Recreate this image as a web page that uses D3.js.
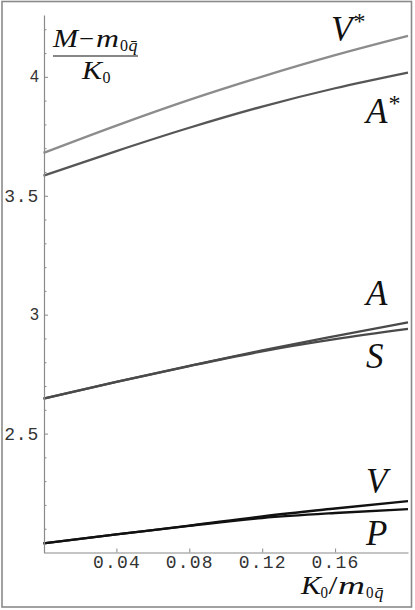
<!DOCTYPE html>
<html><head><meta charset="utf-8">
<script src="https://cdn.jsdelivr.net/npm/d3@7/dist/d3.min.js"></script>
<style>
html,body{margin:0;padding:0;background:#fff;}
svg{display:block;}
</style></head>
<body>
<svg id="chart" width="415" height="610"></svg>
<script>
// Data
const xValues = [0, 0.04, 0.08, 0.12, 0.16, 0.2];
const vStar = [3.680, 3.795, 3.903, 4.001, 4.091, 4.172];
const aStar = [3.584, 3.688, 3.786, 3.875, 3.952, 4.018];
const aVals = [2.647, 2.717, 2.785, 2.850, 2.910, 2.968];
const sVals = [2.647, 2.717, 2.784, 2.846, 2.897, 2.940];
const vVals = [2.038, 2.076, 2.113, 2.152, 2.185, 2.216];
const pVals = [2.038, 2.076, 2.112, 2.145, 2.166, 2.182];
const seriesNames = ["V*", "A*", "A", "S", "V", "P"];
const xTickValues = [0.04, 0.08, 0.12, 0.16];
const yTickValues = [2.5, 3, 3.5, 4];
const yMinorTicks = [2.1,2.2,2.3,2.4,2.6,2.7,2.8,2.9,3.1,3.2,3.3,3.4,3.6,3.7,3.8,3.9,4.1,4.2];

const svg = d3.select("#chart");
const x = d3.scaleLinear().domain([0, 0.2]).range([43.5, 408]);
const y = d3.scaleLinear().domain([2.0, 4.26]).range([552.5, 15]);

// outer frame
svg.append("rect").attr("x", 2).attr("y", 1.5).attr("width", 409.5).attr("height", 605.5)
  .attr("fill", "none").attr("stroke", "#8a8a8a").attr("stroke-width", 1.6);

const series = [
  {name: "V*", values: vStar, color: "#8c8c8c"},
  {name: "A*", values: aStar, color: "#565656"},
  {name: "A", values: aVals, color: "#4a4a4a"},
  {name: "S", values: sVals, color: "#4a4a4a"},
  {name: "V", values: vVals, color: "#111"},
  {name: "P", values: pVals, color: "#111"}
];

const line = d3.line().x(d => x(d[0])).y(d => y(d[1])).curve(d3.curveMonotoneX);
svg.append("g").selectAll("path").data(series).join("path")
  .attr("d", s => line(xValues.map((xv, i) => [xv, s.values[i]])))
  .attr("fill", "none").attr("stroke", s => s.color).attr("stroke-width", 2.3);

// axes
const axisColor = "#8a8a8a";
const gy = svg.append("g").attr("transform", `translate(${x(0)+0.5},0)`)
  .call(d3.axisLeft(y).tickValues(yTickValues).tickSizeInner(-4).tickSizeOuter(0).tickPadding(5)
        .tickFormat(d => d3.format("")(d)));
gy.select(".domain").attr("stroke", axisColor).attr("stroke-width", 1.2);
gy.selectAll(".tick line").attr("stroke", axisColor);
gy.selectAll(".tick text")
  .attr("fill", "#333")
  .style("font-family", d => String(d).includes(".") ? "'Liberation Mono', monospace" : "'Liberation Sans', Arial, sans-serif")
  .style("font-size", d => String(d).includes(".") ? "18px" : "16px")
  .style("letter-spacing", d => String(d).includes(".") ? "0.8px" : "0px");

const gym = svg.append("g").attr("transform", `translate(${x(0)+0.5},0)`)
  .call(d3.axisLeft(y).tickValues(yMinorTicks).tickSizeInner(-2.5).tickSizeOuter(0).tickFormat(""));
gym.select(".domain").remove();
gym.selectAll(".tick line").attr("stroke", axisColor);

const gx = svg.append("g").attr("transform", `translate(0,${y(2.0)})`)
  .call(d3.axisBottom(x).tickValues(xTickValues).tickSizeInner(-4).tickSizeOuter(0).tickPadding(3)
        .tickFormat(d3.format(".2f")));
gx.select(".domain").attr("stroke", axisColor).attr("stroke-width", 1.2);
gx.selectAll(".tick text").attr("fill", "#333")
  .style("font-family", "'Liberation Mono', monospace").style("font-size", "18px")
  .style("letter-spacing", "1.2px");
gx.selectAll(".tick line").attr("stroke", axisColor);

// math-like labels built from positioned glyphs
const serif = "'Liberation Serif', 'Times New Roman', serif";
function piece(sel, xPos, yPos, txt, size, italic, len) {
  const t = sel.append("text").attr("x", xPos).attr("y", yPos)
    .style("font-family", serif).style("font-size", size + "px")
    .style("font-style", italic ? "italic" : "normal").attr("fill", "#111").text(txt);
  if (len) t.attr("textLength", len).attr("lengthAdjust", "spacingAndGlyphs");
}
const yl = svg.append("g");
piece(yl, 53, 47, "M", 25, true, 25);
piece(yl, 79, 47, "\u2212", 25, false, 15);
piece(yl, 96, 47, "m", 25, true, 23);
piece(yl, 120, 51, "0", 17, false, 8);
piece(yl, 128.5, 51, "q\u0304", 17, true, 9);
yl.append("line").attr("x1", 53).attr("x2", 138).attr("y1", 56).attr("y2", 56)
  .attr("stroke", "#111").attr("stroke-width", 1.2);
piece(yl, 82, 78.5, "K", 25, true, 20);
piece(yl, 102.5, 82.5, "0", 17, false, 8);

const xl = svg.append("g");
piece(xl, 301, 594, "K", 25, true, 20);
piece(xl, 320.5, 598, "0", 17, false, 7.5);
piece(xl, 328.5, 594, "/", 25, false, 9);
piece(xl, 338, 594, "m", 25, true, 27);
piece(xl, 366, 598, "0", 17, false, 7.5);
piece(xl, 374.5, 598, "q\u0304", 17, true, 9);

// series labels
const labelPos = {"V*": [331, 41], "A*": [366, 123], "A": [366, 305], "S": [366, 368], "V": [366, 493], "P": [366, 545]};
seriesNames.forEach(n => {
  const t = svg.append("text").attr("x", labelPos[n][0]).attr("y", labelPos[n][1])
    .style("font-family", serif).style("font-size", "35px").attr("fill", "#111");
  t.append("tspan").style("font-style", "italic").text(n.charAt(0));
  if (n.length > 1) t.append("tspan").attr("dy", -12).attr("dx", 1).style("font-size", "24px").text("*");
});
</script>
</body></html>
